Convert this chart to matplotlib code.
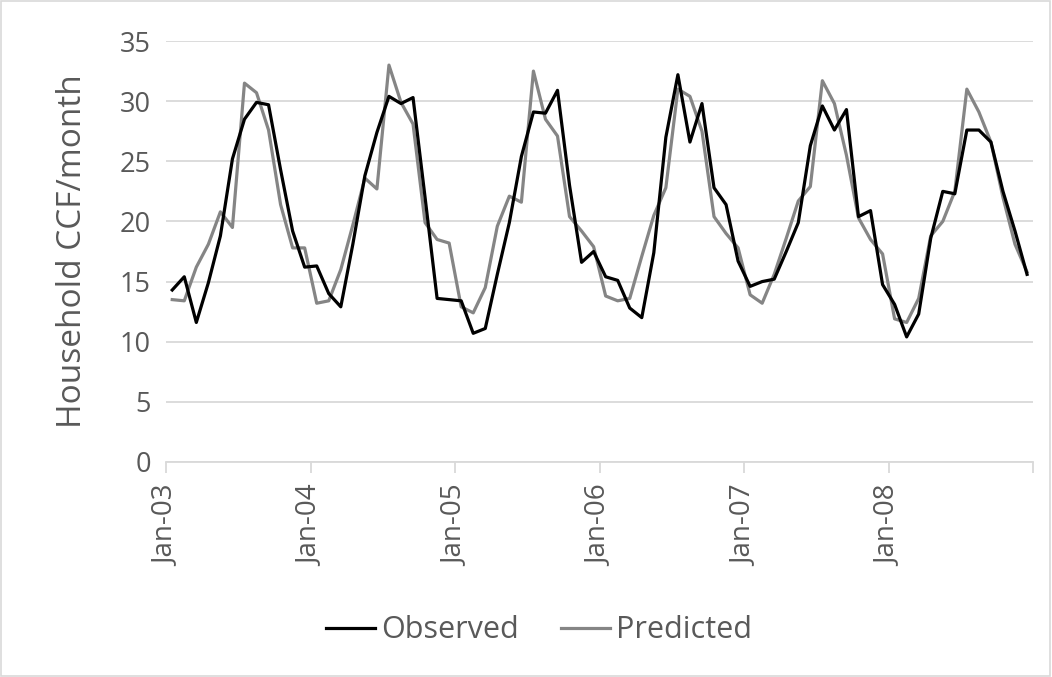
import numpy as np
import matplotlib
matplotlib.use("Agg")
import matplotlib.pyplot as plt
from matplotlib.patches import Rectangle

# monthly values, Jan-03 .. Dec-08
observed = [14.3, 15.4, 11.6, 14.9, 18.8, 25.2, 28.5, 29.9, 29.7, 24.3, 19.2, 16.2,
            16.3, 14.0, 12.9, 18.1, 23.8, 27.4, 30.4, 29.8, 30.3, 22.0, 13.6, 13.5,
            13.4, 10.7, 11.1, 15.6, 19.9, 25.4, 29.1, 29.0, 30.9, 23.0, 16.6, 17.5,
            15.4, 15.1, 12.8, 12.0, 17.4, 27.0, 32.2, 26.6, 29.8, 22.8, 21.4, 16.7,
            14.6, 15.0, 15.2, 17.5, 19.9, 26.3, 29.6, 27.6, 29.3, 20.4, 20.9, 14.75,
            13.1, 10.4, 12.3, 18.6, 22.5, 22.3, 27.6, 27.6, 26.6, 22.5, 19.2, 15.6]
predicted = [13.5, 13.4, 16.2, 18.1, 20.8, 19.5, 31.5, 30.7, 27.6, 21.4, 17.8, 17.8,
             13.2, 13.4, 16.0, 19.7, 23.6, 22.7, 33.0, 29.9, 28.1, 19.9, 18.5, 18.2,
             12.9, 12.4, 14.5, 19.6, 22.1, 21.6, 32.5, 28.5, 27.1, 20.4, 19.2, 17.9,
             13.8, 13.4, 13.6, 17.1, 20.5, 22.8, 31.0, 30.4, 27.5, 20.4, 19.0, 17.8,
             13.9, 13.2, 15.6, 18.6, 21.7, 22.9, 31.7, 29.8, 25.5, 20.3, 18.5, 17.3,
             11.9, 11.6, 13.6, 18.8, 20.0, 22.5, 31.0, 29.1, 26.6, 22.0, 18.1, 15.8]
year_labels = ["Jan-03", "Jan-04", "Jan-05", "Jan-06", "Jan-07", "Jan-08"]

plt.rcParams['font.family'] = ['Open Sans', 'DejaVu Sans']
txt = '#595959'
grid = '#d9d9d9'

fig = plt.figure(figsize=(10.52, 6.77), dpi=100)
ax = fig.add_axes([0.158, 0.3176, 0.824, 0.6218])

months = np.arange(len(observed)) + 0.5
ax.plot(months, observed, color='black', lw=2.3, label='Observed', zorder=3)
ax.plot(months, predicted, color='#858585', lw=2.3, label='Predicted', zorder=2)

ax.set_xlim(0, len(observed))
ax.set_ylim(0, 35)
ax.set_yticks(range(0, 36, 5))
ax.set_xticks(range(0, len(observed) + 1, 12))
ax.set_xticklabels(year_labels + [""], rotation=90)

ax.yaxis.grid(True, color=grid, lw=1.3)
ax.set_axisbelow(True)
for s in ['top', 'right', 'left']:
    ax.spines[s].set_visible(False)
ax.spines['bottom'].set_color(grid)
ax.spines['bottom'].set_linewidth(1.3)
ax.tick_params(axis='y', length=0, pad=11, labelsize=19.5, labelcolor=txt)
ax.tick_params(axis='x', length=8, width=1.3, color=grid, pad=9, labelsize=20, labelcolor=txt)
ax.set_ylabel('Household CCF/month', fontsize=24, color=txt, labelpad=22)

leg = ax.legend(loc='center', bbox_to_anchor=(0.43, -0.4), ncol=2, frameon=False,
                fontsize=22, handlelength=1.6, handletextpad=0.2, columnspacing=1.4)
for t in leg.get_texts():
    t.set_color(txt)

fig.patches.append(Rectangle((0.001, 0.002), 0.997, 0.996, transform=fig.transFigure,
                             fill=False, edgecolor=grid, lw=1.2))

fig.savefig('out.png', dpi=100)
